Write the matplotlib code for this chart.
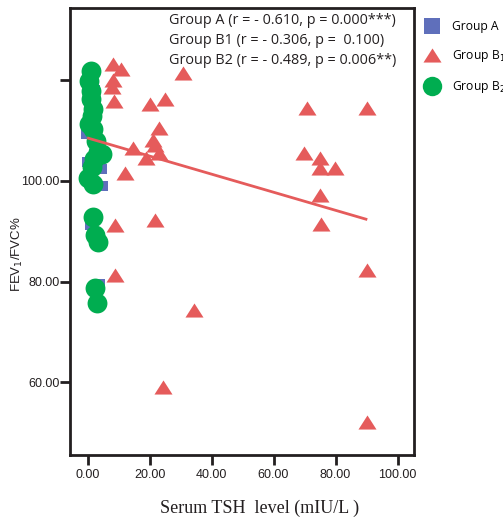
import matplotlib
matplotlib.use("Agg")
import matplotlib.pyplot as plt
from matplotlib.lines import Line2D

# ---- data ----
groupA_x = [2.4, -0.5, -0.2, 4.7, 5.0, 0.8, 4.0]
groupA_y = [118.0, 109.3, 103.7, 102.3, 98.9, 91.3, 79.6]

groupB1_x = [8.2, 10.8, 8.2, 7.9, 8.5, 30.9, 20.2, 25.0, 70.7, 90.1,
             23.2, 21.2, 21.8, 14.8, 18.9, 23.2, 12.1, 69.8, 75.0, 75.0,
             79.8, 75.0, 21.8, 75.2, 90.1, 34.4, 24.3, 90.1, 8.9, 8.9]
groupB1_y = [123.3, 122.3, 120.1, 118.7, 115.9, 121.4, 115.4, 116.4, 114.5, 114.5,
             110.5, 108.2, 107.2, 106.5, 104.5, 105.5, 101.5, 105.5, 104.5, 102.5,
             102.5, 97.2, 92.2, 91.5, 82.3, 74.4, 59.1, 52.1, 91.3, 81.3]

groupB2_x = [1.1, 0.6, 1.1, 1.1, 1.7, 1.3, 0.6, 1.7, 2.7, 3.3, 4.6, 2.2,
             1.5, 0.3, 1.7, 1.8, 2.4, 3.4, 2.4, 3.1]
groupB2_y = [121.8, 119.8, 117.8, 116.4, 114.4, 113.0, 111.3, 110.3, 107.9, 105.7, 105.3, 104.3,
             102.7, 100.5, 99.3, 92.9, 89.3, 87.9, 78.8, 75.8]

fit_x = [0.3, 89.8]
fit_y = [108.5, 92.4]

x_ticks = [0, 20, 40, 60, 80, 100]
x_ticklabels = ["0.00", "20.00", "40.00", "60.00", "80.00", "100.00"]
y_ticks = [60, 80, 100, 120]
y_ticklabels = ["60.00", "80.00", "100.00", ""]

legend_labels = ["Group A", "Group B$_1$", "Group B$_2$"]
stats_text = ["Group A (r = - 0.610, p = 0.000***)",
              "Group B1 (r = - 0.306, p =  0.100)",
              "Group B2 (r = - 0.489, p = 0.006**)"]

# ---- style ----
blue = "#5f6fbb"
red = "#e55b5b"
green = "#00ad50"
dark = "#231f20"
tri = [(0, 0.39), (-0.5, -0.39), (0.5, -0.39)]

fig = plt.figure(figsize=(5.03, 5.27), dpi=100)
ax = fig.add_axes([70/503, 1-455/527, (414-70)/503, (455-8)/527])

ax.scatter(groupA_x, groupA_y, marker="s", s=7.5**2, color=blue, linewidths=0, zorder=2)
ax.scatter(groupB1_x, groupB1_y, marker=tri, s=13**2, color=red, linewidths=0, zorder=3)
ax.scatter(groupB2_x, groupB2_y, marker="o", s=14.3**2, color=green, linewidths=0, zorder=4)
ax.plot(fit_x, fit_y, color=red, lw=2, zorder=5)

ax.set_xlim(-5.65, 105.3)
ax.set_ylim(45.5, 134.4)
ax.set_xticks(x_ticks)
ax.set_xticklabels(x_ticklabels, fontfamily="Liberation Sans", fontsize=9, color=dark)
ax.set_yticks(y_ticks)
ax.set_yticklabels(y_ticklabels, fontfamily="Liberation Sans", fontsize=9, color=dark)
ax.tick_params(axis="x", direction="out", length=7, width=2, color=dark, pad=3)
ax.tick_params(axis="y", direction="out", length=7, width=2, color=dark, pad=0.5)
for sp in ax.spines.values():
    sp.set_linewidth(2)
    sp.set_color(dark)

fig.text(260/503, 1-508/527, "Serum TSH  level (mIU/L )", ha="center", va="center",
         fontfamily="Liberation Serif", fontsize=13, color=dark)
fig.text(17/503, 1-254/527, "FEV$_1$/FVC%", ha="center", va="center", rotation=90,
         fontfamily="Liberation Sans", fontsize=9.5, color=dark)

for i, t in enumerate(stats_text):
    fig.text(169/503, 1-(21+19.6*i)/527, t, ha="left", va="center",
             fontfamily="Open Sans", fontsize=10.4, color=dark)

handles = [Line2D([], [], ls="none", marker="s", ms=11, color=blue, mew=0),
           Line2D([], [], ls="none", marker=tri, ms=13, color=red, mew=0),
           Line2D([], [], ls="none", marker="o", ms=14, color=green, mew=0)]
fig.legend(handles, legend_labels, loc="upper left", bbox_to_anchor=(422/503, 1-20/527),
           frameon=False, borderpad=0, borderaxespad=0, handlelength=1.7, handletextpad=0.8,
           labelspacing=1.25, prop={"family": "Open Sans", "size": 8.7})

fig.savefig("out.png", dpi=100)
